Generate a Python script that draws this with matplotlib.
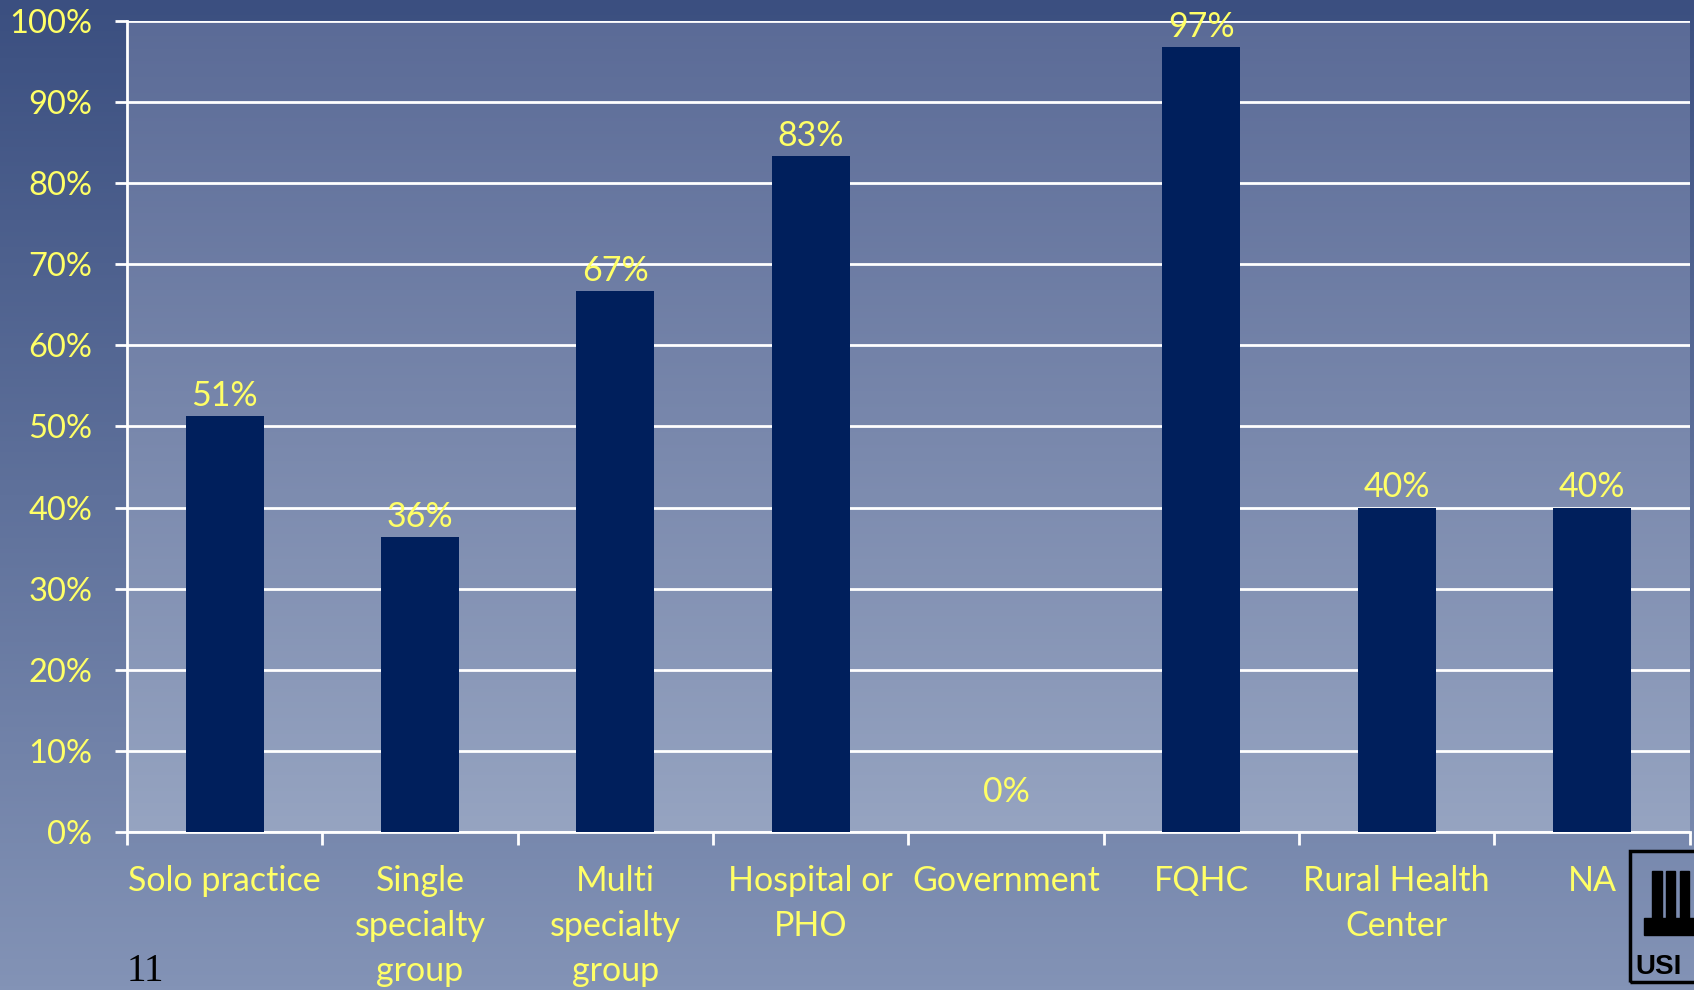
import numpy as np
import matplotlib
matplotlib.use("Agg")
import matplotlib.pyplot as plt
from matplotlib.colors import LinearSegmentedColormap
from matplotlib.patches import Rectangle

categories = ["Solo practice", "Single\nspecialty\ngroup", "Multi\nspecialty\ngroup",
              "Hospital or\nPHO", "Government", "FQHC", "Rural Health\nCenter", "NA"]
values = [51.3, 36.4, 66.7, 83.3, 0.0, 96.8, 40.0, 40.0]
labels = ["51%", "36%", "67%", "83%", "0%", "97%", "40%", "40%"]
yticks = [0, 10, 20, 30, 40, 50, 60, 70, 80, 90, 100]

YELLOW = "#ffff66"
BAR = "#001f5c"
FONT = ["Lato", "DejaVu Sans"]

fig = plt.figure(figsize=(16.94, 9.90), dpi=100)

# figure background gradient
bg = fig.add_axes([0, 0, 1, 1], zorder=-10)
grad = np.linspace(0, 1, 256).reshape(-1, 1)
cm_bg = LinearSegmentedColormap.from_list("bg", ["#3b4f80", "#8393b6"])
bg.imshow(grad, aspect="auto", cmap=cm_bg, extent=[0, 1, 0, 1], origin="upper")
bg.set_xlim(0, 1)
bg.set_ylim(0, 1)
bg.axis("off")

ax = fig.add_axes([0.075, 0.1596, 0.9225, 0.8192])
ax.set_facecolor("none")
cm_ax = LinearSegmentedColormap.from_list("ax", ["#5b6b97", "#96a4c1"])
ax.imshow(grad, aspect="auto", cmap=cm_ax, extent=[-0.5, 7.5, 0, 100],
          origin="upper", zorder=0)

x = np.arange(len(categories))
ax.bar(x, values, width=0.4, color=BAR, zorder=3)

for xi, v, lab in zip(x, values, labels):
    ax.annotate(lab, (xi, v), xytext=(0, 17 if v == 0 else 3), textcoords="offset points",
                ha="center", va="bottom", color=YELLOW, fontsize=24.5, family=FONT,
                zorder=4)

ax.set_xlim(-0.5, 7.5)
ax.set_ylim(0, 100)
ax.set_yticks(yticks)
ax.set_yticklabels([f"{t}%" for t in yticks])
ax.yaxis.grid(True, color="white", linewidth=2, zorder=1)
ax.set_axisbelow(True)

ax.set_xticks(np.arange(-0.5, 8, 1))
ax.set_xticklabels([])
ax.set_xticks(x, minor=True)
ax.set_xticklabels(categories, minor=True)
ax.tick_params(axis="x", which="major", length=9, width=2, color="white", direction="out")
ax.tick_params(axis="x", which="minor", length=0, pad=24, labelsize=24.5, labelcolor=YELLOW)
ax.tick_params(axis="y", length=9, width=2, color="white", pad=16, labelsize=23.5,
               labelcolor=YELLOW)
for lab in ax.get_xticklabels(minor=True) + ax.get_yticklabels():
    lab.set_family(FONT)
for lab in ax.get_xticklabels(minor=True):
    lab.set_linespacing(1.5)

for s in ["top", "right"]:
    ax.spines[s].set_visible(False)
for s in ["left", "bottom"]:
    ax.spines[s].set_color("white")
    ax.spines[s].set_linewidth(2)

# page number and logo
fig.text(0.075, 0.0, "11", color="black", fontsize=28, family="Liberation Serif",
         va="bottom")
fig.patches.append(Rectangle((0.962, 0.008), 0.06, 0.132, transform=fig.transFigure,
                             fill=False, edgecolor="black", linewidth=2.5))
# building columns of the logo
for cx in [0.9755, 0.9835, 0.9915]:
    fig.patches.append(Rectangle((cx, 0.073), 0.0055, 0.047, transform=fig.transFigure,
                                 color="black"))
fig.patches.append(Rectangle((0.9705, 0.056), 0.04, 0.017, transform=fig.transFigure,
                             color="black"))
fig.text(0.9655, 0.016, "USI", color="black", fontsize=20, fontweight="bold",
         family="Liberation Sans")

fig.savefig("out.png", dpi=100)
